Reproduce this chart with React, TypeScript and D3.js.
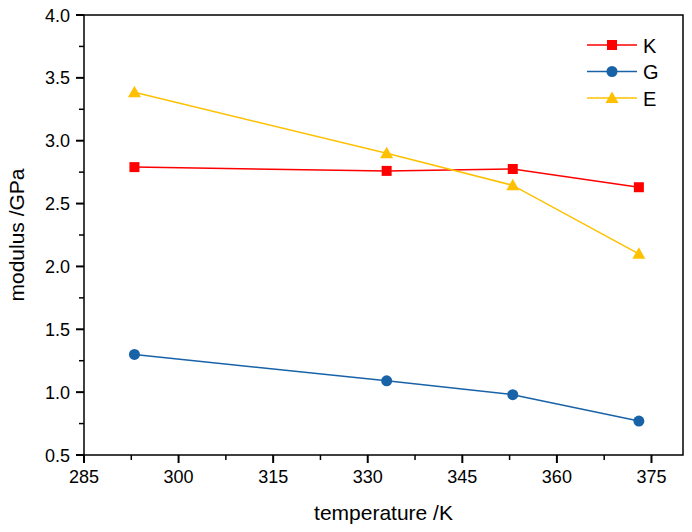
import React from "react";
import * as d3 from "d3";

const temps = [293, 333, 353, 373];
const kValues = [2.79, 2.76, 2.775, 2.63];
const gValues = [1.30, 1.09, 0.98, 0.77];
const eValues = [3.385, 2.90, 2.645, 2.10];
const xTicks = [285, 300, 315, 330, 345, 360, 375];
const yTicks = [0.5, 1.0, 1.5, 2.0, 2.5, 3.0, 3.5, 4.0];
const seriesNames = ["K", "G", "E"];

const W = 692, H = 532;
const L = 84, R = 683, T = 15, B = 455;

export default function App() {
  const x = d3.scaleLinear().domain([285, 380]).range([L, R]);
  const y = d3.scaleLinear().domain([0.5, 4.0]).range([B, T]);
  const font = "Arial, 'Liberation Sans', sans-serif";
  const series = [
    { name: seriesNames[0], vals: kValues, color: "#ff0000", marker: "square" },
    { name: seriesNames[1], vals: gValues, color: "#1862a8", marker: "circle" },
    { name: seriesNames[2], vals: eValues, color: "#ffc000", marker: "triangle" },
  ];
  const line = d3.line<[number, number]>().x(d => x(d[0])).y(d => y(d[1]));
  const marker = (m: string, cx: number, cy: number, color: string, key: any) => {
    if (m === "square") return <rect key={key} x={cx - 5} y={cy - 5} width={10} height={10} fill={color} />;
    if (m === "circle") return <circle key={key} cx={cx} cy={cy} r={5.5} fill={color} />;
    return <path key={key} d={`M${cx},${cy - 6.5} L${cx + 6.5},${cy + 5} L${cx - 6.5},${cy + 5} Z`} fill={color} />;
  };
  const minorX = d3.range(292.5, 380, 15);
  const minorY = d3.range(0.75, 4.0, 0.5);
  return (
    <svg width={W} height={H} style={{ position: "absolute", left: 0, top: 0, background: "#fff" }}>
      <rect x={0} y={0} width={W} height={H} fill="#fff" />
      {series.map((s, i) => (
        <g key={i}>
          <path d={line(temps.map((t, j) => [t, s.vals[j]]) as any) || ""} fill="none" stroke={s.color} strokeWidth={1.5} />
          {temps.map((t, j) => marker(s.marker, x(t), y(s.vals[j]), s.color, j))}
        </g>
      ))}
      <rect x={L} y={T} width={R - L} height={B - T} fill="none" stroke="#000" strokeWidth={1.5} />
      {xTicks.map(t => (
        <g key={t}>
          <line x1={x(t)} x2={x(t)} y1={B} y2={B + 8} stroke="#000" strokeWidth={2} />
          <text x={x(t)} y={B + 28} textAnchor="middle" fontSize={18} fontFamily={font} fill="#000">{t}</text>
        </g>
      ))}
      {minorX.map(t => (
        <line key={t} x1={x(t)} x2={x(t)} y1={B} y2={B + 5} stroke="#000" strokeWidth={1.5} />
      ))}
      {yTicks.map(t => (
        <g key={t}>
          <line x1={L - 8} x2={L} y1={y(t)} y2={y(t)} stroke="#000" strokeWidth={2} />
          <text x={L - 14} y={y(t) + 6.5} textAnchor="end" fontSize={18} fontFamily={font} fill="#000">{t.toFixed(1)}</text>
        </g>
      ))}
      {minorY.map(t => (
        <line key={t} x1={L - 5} x2={L} y1={y(t)} y2={y(t)} stroke="#000" strokeWidth={1.5} />
      ))}
      <text x={(L + R) / 2} y={520} textAnchor="middle" fontSize={21} fontFamily={font} fill="#000">temperature /K</text>
      <text transform={`translate(24,${(T + B) / 2}) rotate(-90)`} textAnchor="middle" fontSize={21} fontFamily={font} fill="#000">modulus /GPa</text>
      {series.map((s, i) => {
        const ly = 45 + i * 26.5;
        return (
          <g key={i}>
            <line x1={587} x2={637} y1={ly} y2={ly} stroke={s.color} strokeWidth={1.5} />
            {marker(s.marker, 612, ly, s.color, "m")}
            <text x={643} y={ly + 7.5} fontSize={20} fontFamily={font} fill="#000">{s.name}</text>
          </g>
        );
      })}
    </svg>
  );
}
